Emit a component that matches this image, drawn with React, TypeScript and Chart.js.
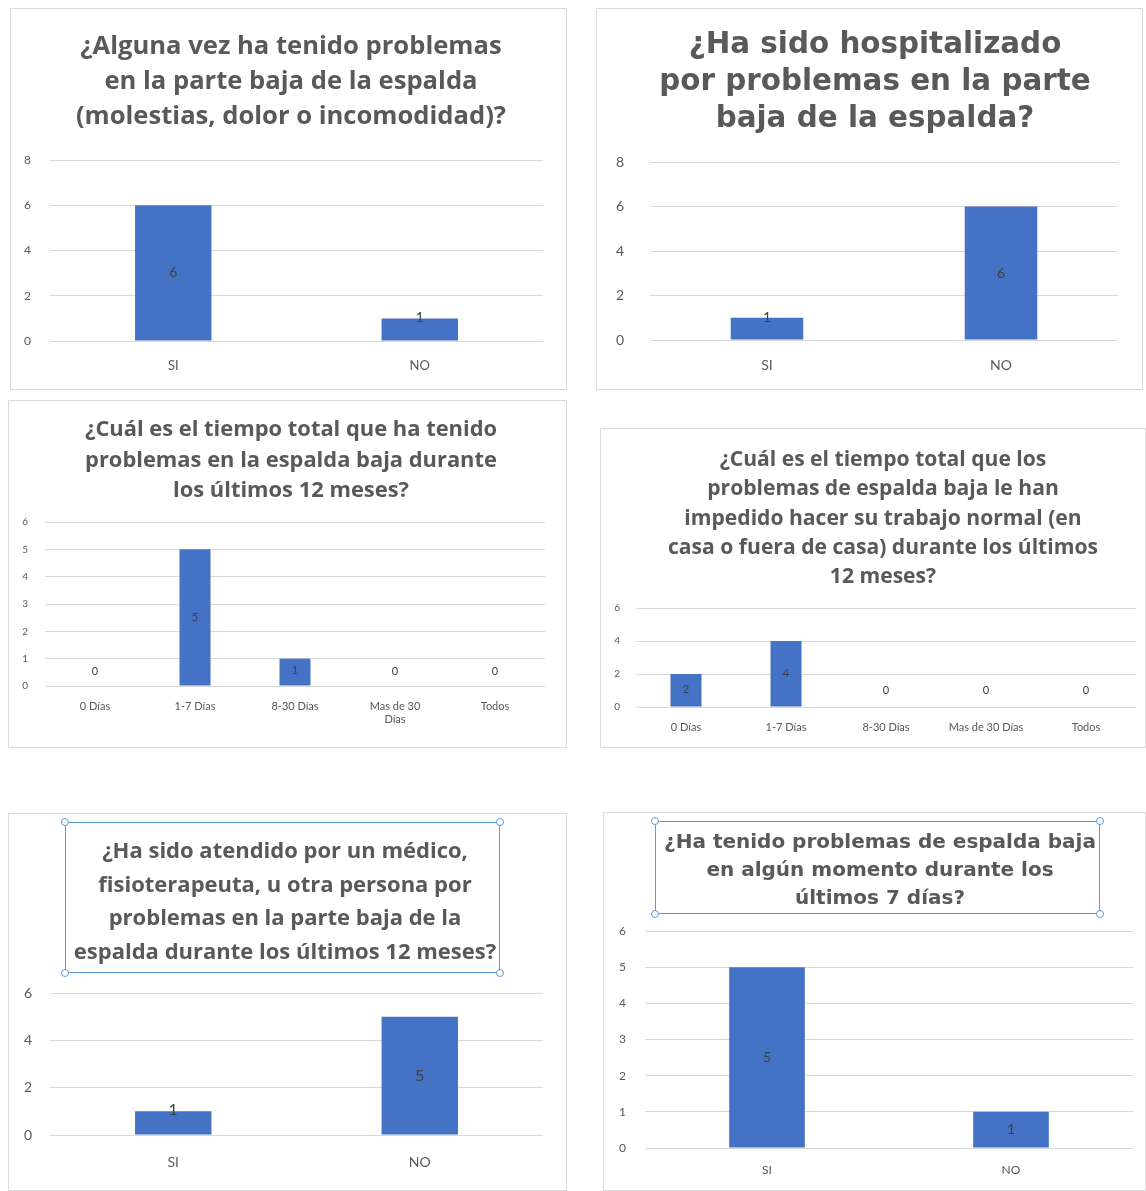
import React, { useEffect, useRef } from "react";
import { Chart, registerables } from "chart.js";
Chart.register(...registerables);

// ---------- data ----------
const yesNo = ["SI", "NO"];
const dayRanges = ["0 Días", "1-7 Días", "8-30 Días", "Mas de 30 Días", "Todos"];

const everBackPain = [6, 1];
const hospitalized = [1, 6];
const totalTime12m = [0, 5, 1, 0, 0];
const preventedWork12m = [2, 4, 0, 0, 0];
const seenByDoctor12m = [1, 5];
const last7Days = [5, 1];

const title1 = ["¿Alguna vez ha tenido problemas", "en la parte baja de la espalda", "(molestias, dolor o incomodidad)?"];
const title2 = ["¿Ha sido hospitalizado", "por problemas en la parte", "baja de la espalda?"];
const title3 = ["¿Cuál es el tiempo total que ha tenido", "problemas en la espalda baja durante", "los últimos 12 meses?"];
const title4 = [
  "¿Cuál es el tiempo total que los",
  "problemas de espalda baja le han",
  "impedido hacer su trabajo normal (en",
  "casa o fuera de casa) durante los últimos",
  "12 meses?",
];
const title5 = [
  "¿Ha sido atendido por un médico,",
  "fisioterapeuta, u otra persona por",
  "problemas en la parte baja de la",
  "espalda durante los últimos 12 meses?",
];
const title6 = ["¿Ha tenido problemas de espalda baja", "en algún momento durante los", "últimos 7 días?"];

const yMax8 = 8;
const yMax6 = 6;

const BAR = "#4472C4";
const GRID = "#d9d9d9";
const TXT = "#595959";
const CAL = "Lato, 'Open Sans', sans-serif";
const TCAL = "'Open Sans', Lato, sans-serif";
const GOTH = "'DejaVu Sans', sans-serif";

type Spec = {
  labels: string[];
  values: number[];
  title: string[];
  box: { l: number; t: number; w: number; h: number };
  grid: { l: number; r: number; t: number; b: number };
  yMax: number;
  yStep: number;
  tfont: { cx: number; top: number; lh: number; size: number; family: string };
  titleBox?: { l: number; t: number; r: number; b: number };
  yTick: number;
  xTick: number;
  xPad: number;
  yPad: number;
  labelSize: number;
  lowOff: number;
  wrap?: boolean;
  tickFamily: string;
};

const specs: Spec[] = [
  {
    labels: yesNo, values: everBackPain, title: title1,
    box: { l: 10, t: 8, w: 557, h: 382 },
    grid: { l: 50, r: 543, t: 160, b: 341 },
    yMax: yMax8, yStep: 2,
    tfont: { cx: 291, top: 27, lh: 35, size: 25.6, family: TCAL },
    yTick: 12, xTick: 13, xPad: 17, yPad: 19, labelSize: 14, lowOff: 23, tickFamily: CAL,
  },
  {
    labels: yesNo, values: hospitalized, title: title2,
    box: { l: 596, t: 8, w: 547, h: 382 },
    grid: { l: 650, r: 1118, t: 162, b: 340 },
    yMax: yMax8, yStep: 2,
    tfont: { cx: 875, top: 25, lh: 37, size: 29.4, family: GOTH },
    yTick: 14, xTick: 14, xPad: 17, yPad: 26, labelSize: 14, lowOff: 22, tickFamily: CAL,
  },
  {
    labels: dayRanges, values: totalTime12m, title: title3,
    box: { l: 8, t: 400, w: 559, h: 348 },
    grid: { l: 45, r: 545, t: 522, b: 686 },
    yMax: yMax6, yStep: 1,
    tfont: { cx: 291, top: 413, lh: 30.5, size: 21.9, family: TCAL },
    yTick: 10, xTick: 11, xPad: 14, yPad: 17, labelSize: 11, lowOff: 15, wrap: true, tickFamily: CAL,
  },
  {
    labels: dayRanges, values: preventedWork12m, title: title4,
    box: { l: 600, t: 428, w: 546, h: 320 },
    grid: { l: 636, r: 1136, t: 608, b: 707 },
    yMax: yMax6, yStep: 2,
    tfont: { cx: 883, top: 443, lh: 29.3, size: 21.1, family: TCAL },
    yTick: 10, xTick: 11, xPad: 14, yPad: 16, labelSize: 11, lowOff: 17, tickFamily: CAL,
  },
  {
    labels: yesNo, values: seenByDoctor12m, title: title5,
    box: { l: 8, t: 813, w: 559, h: 378 },
    grid: { l: 50, r: 543, t: 993, b: 1135 },
    yMax: yMax6, yStep: 2,
    tfont: { cx: 285, top: 833, lh: 33.7, size: 22, family: TCAL },
    titleBox: { l: 65, t: 822, r: 500, b: 973 },
    yTick: 14, xTick: 14, xPad: 19, yPad: 18, labelSize: 16, lowOff: 25, tickFamily: CAL,
  },
  {
    labels: yesNo, values: last7Days, title: title6,
    box: { l: 603, t: 812, w: 543, h: 379 },
    grid: { l: 645, r: 1133, t: 931, b: 1148 },
    yMax: yMax6, yStep: 1,
    tfont: { cx: 880, top: 827, lh: 28, size: 20, family: GOTH },
    titleBox: { l: 655, t: 821, r: 1100, b: 914 },
    yTick: 12, xTick: 12, xPad: 15, yPad: 19, labelSize: 14, lowOff: 18, tickFamily: CAL,
  },
];

function labelPlugin(size: number, off: number, family: string) {
  return {
    id: "valueLabels",
    afterDatasetsDraw(chart: any) {
      const ctx = chart.ctx;
      const meta = chart.getDatasetMeta(0);
      const data = chart.data.datasets[0].data;
      ctx.save();
      ctx.font = `${size}px ${family}`;
      ctx.fillStyle = "#404040";
      ctx.textAlign = "center";
      ctx.textBaseline = "middle";
      meta.data.forEach((el: any, i: number) => {
        const { x, y, base } = el.getProps(["x", "y", "base"], true);
        const ly = Math.min((y + base) / 2, base - off);
        ctx.fillText(String(data[i]), x, ly);
      });
      ctx.restore();
    },
  };
}

function Panel({ s }: { s: Spec }) {
  const ref = useRef<HTMLCanvasElement>(null);
  useEffect(() => {
    if (!ref.current) return;
    const { box, grid } = s;
    const chart = new Chart(ref.current, {
      type: "bar",
      data: {
        labels: s.labels,
        datasets: [
          {
            data: s.values,
            backgroundColor: BAR,
            borderWidth: 0,
            categoryPercentage: 0.31,
            barPercentage: 1,
          },
        ],
      },
      options: {
        responsive: false,
        animation: false,
        layout: { padding: { left: 0, right: box.l + box.w - grid.r, top: grid.t - box.t, bottom: 0 } },
        plugins: { legend: { display: false }, tooltip: { enabled: false }, title: { display: false } },
        scales: {
          x: {
            grid: { display: false, drawTicks: false },
            border: { display: false },
            ticks: {
              color: TXT,
              font: { family: s.tickFamily, size: s.xTick },
              padding: s.xPad,
              maxRotation: 0,
              autoSkip: false,
              callback: function (this: any, value: any) {
                const l: string = this.getLabelForValue(value);
                if (s.wrap && l.length > 12) {
                  const k = l.lastIndexOf(" ");
                  return [l.slice(0, k), l.slice(k + 1)];
                }
                return l;
              },
            },
            afterFit: (sc: any) => {
              sc.height = box.t + box.h - grid.b;
            },
          },
          y: {
            min: 0,
            max: s.yMax,
            grid: { color: GRID, lineWidth: 1, drawTicks: false },
            border: { display: false },
            ticks: { stepSize: s.yStep, color: TXT, padding: s.yPad, font: { family: s.tickFamily, size: s.yTick } },
            afterFit: (sc: any) => {
              sc.width = grid.l - box.l;
            },
          },
        },
      } as any,
      plugins: [labelPlugin(s.labelSize, s.lowOff, s.tickFamily)],
    });
    return () => chart.destroy();
  }, []);

  const { box, tfont, titleBox } = s;
  const handle = (x: number, y: number, k: string) => (
    <div
      key={k}
      style={{
        position: "absolute",
        left: x - 4,
        top: y - 4,
        width: 8,
        height: 8,
        borderRadius: "50%",
        border: "1.5px solid #5b9bd5",
        background: "#fff",
        boxSizing: "border-box",
      }}
    />
  );
  return (
    <>
      <div
        style={{
          position: "absolute",
          left: box.l,
          top: box.t,
          width: box.w,
          height: box.h,
          border: "1px solid #dcdcdc",
          boxSizing: "border-box",
          background: "#fff",
        }}
      />
      <canvas
        ref={ref}
        width={box.w}
        height={box.h}
        style={{ position: "absolute", left: box.l, top: box.t, width: box.w, height: box.h }}
      />
      {titleBox && (
        <>
          <div
            style={{
              position: "absolute",
              left: titleBox.l,
              top: titleBox.t,
              width: titleBox.r - titleBox.l,
              height: titleBox.b - titleBox.t,
              border: "1.5px solid #5b9bd5",
              boxSizing: "border-box",
            }}
          />
          {handle(titleBox.l, titleBox.t, "a")}
          {handle(titleBox.r, titleBox.t, "b")}
          {handle(titleBox.l, titleBox.b, "c")}
          {handle(titleBox.r, titleBox.b, "d")}
        </>
      )}
      <div
        style={{
          position: "absolute",
          left: tfont.cx - 300,
          top: tfont.top,
          width: 600,
          textAlign: "center",
          fontFamily: tfont.family,
          fontWeight: 700,
          fontSize: tfont.size,
          lineHeight: `${tfont.lh}px`,
          color: TXT,
          whiteSpace: "nowrap",
        }}
      >
        {s.title.map((line, i) => (
          <div key={i}>{line}</div>
        ))}
      </div>
    </>
  );
}

export default function App() {
  return (
    <div style={{ position: "absolute", left: 0, top: 0, width: 1146, height: 1191, background: "#fff", overflow: "hidden" }}>
      {specs.map((s, i) => (
        <Panel key={i} s={s} />
      ))}
    </div>
  );
}
